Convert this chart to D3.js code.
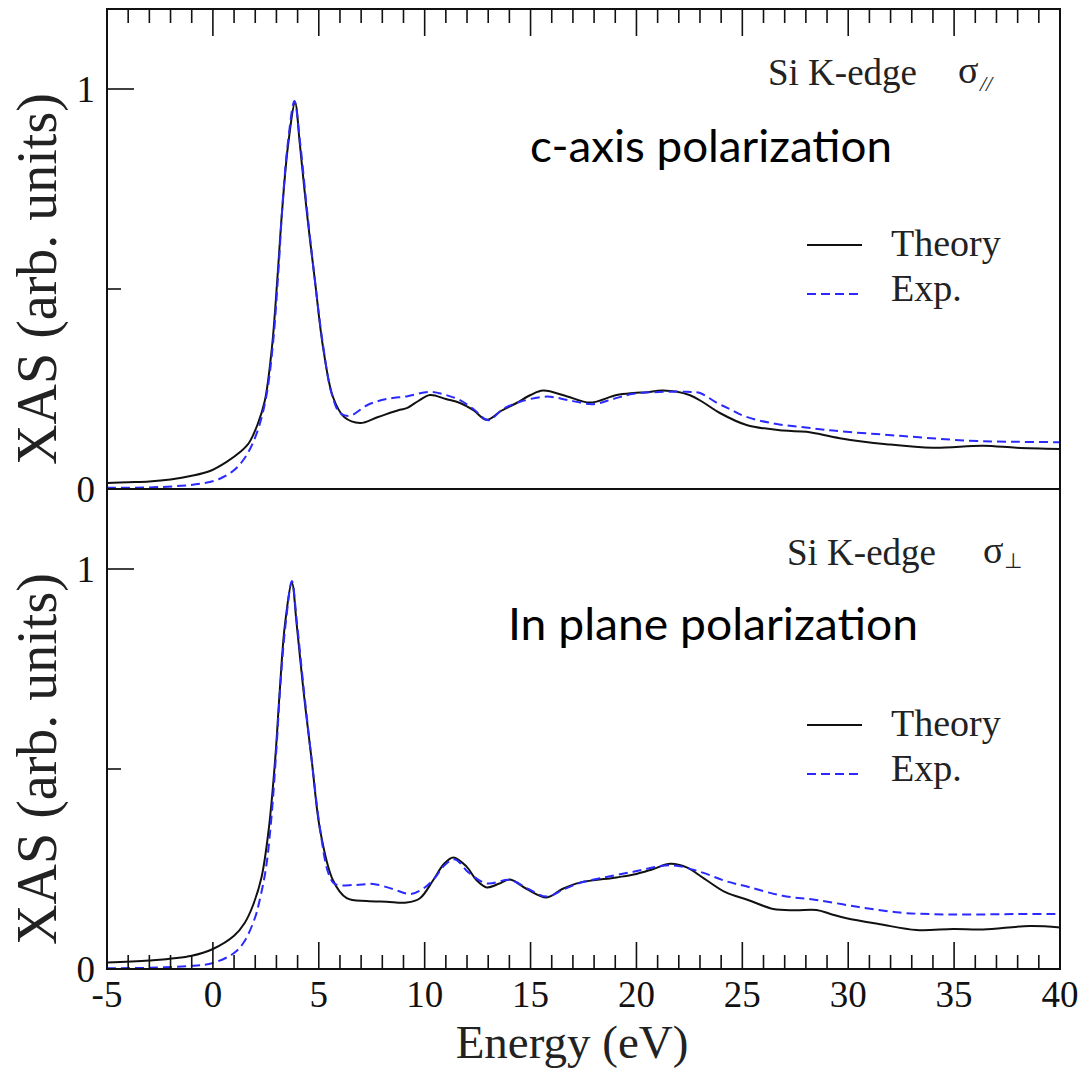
<!DOCTYPE html>
<html>
<head>
<meta charset="utf-8">
<script src="https://cdn.jsdelivr.net/npm/d3@7"></script>
<style>
  body { margin: 0; background: #fff; }
</style>
</head>
<body>
<svg id="chart" width="1086" height="1069"></svg>
<script>
// x ticks (eV) and y ticks shared by both panels
const xMajor = [-5, 0, 5, 10, 15, 20, 25, 30, 35, 40];
const xMinor = d3.range(-5, 41, 1).filter(v => v % 5 !== 0);
const yMajor = [0, 1];
const yMinor = [0.5];

// sigma parallel (c-axis) -- [energy, XAS]
const parTheory = [[-5,0.015],[-4,0.017],[-3,0.019],[-2,0.024],[-1,0.033],[-0.14,0.045],[0.65,0.068],[1.3,0.093],
  [1.7,0.115],[2.1,0.16],[2.45,0.22],[2.79,0.355],[3.05,0.53],[3.26,0.69],[3.55,0.86],[3.88,0.965],[4.11,0.86],
  [4.44,0.69],[4.82,0.52],[5.2,0.355],[5.67,0.23],[6.2,0.18],[6.95,0.165],[7.8,0.18],[8.83,0.198],[9.15,0.202],
  [9.7,0.22],[10.25,0.235],[11.0,0.225],[11.67,0.215],[12.3,0.197],[12.93,0.173],[13.6,0.195],[14.34,0.215],
  [15.0,0.235],[15.59,0.246],[16.7,0.232],[17.8,0.216],[19.06,0.235],[19.85,0.24],[20.5,0.242],[21.25,0.246],
  [22.5,0.235],[23.2,0.215],[23.94,0.19],[25.2,0.16],[26.93,0.146],[28.03,0.143],[29.6,0.127],[31.8,0.112],
  [34.0,0.103],[36.37,0.108],[37.95,0.103],[40,0.1]];
const parExp = [[-5,0.003],[-3,0.004],[-1.5,0.008],[-0.5,0.014],[0.3,0.025],[0.95,0.045],[1.4,0.07],[1.8,0.105],
  [2.2,0.16],[2.55,0.24],[2.85,0.37],[3.1,0.55],[3.3,0.72],[3.55,0.87],[3.85,0.97],[4.11,0.87],[4.44,0.7],
  [4.82,0.52],[5.2,0.36],[5.6,0.24],[6.0,0.19],[6.47,0.183],[7.3,0.21],[8.2,0.225],[9.2,0.232],[10.25,0.243],
  [11.0,0.235],[11.67,0.222],[12.3,0.2],[13.0,0.172],[13.7,0.2],[14.5,0.218],[15.76,0.231],[16.8,0.222],
  [17.95,0.212],[18.9,0.225],[19.85,0.238],[21.4,0.243],[22.4,0.243],[23.0,0.24],[23.78,0.216],[24.4,0.2],
  [25.1,0.182],[26.45,0.164],[27.8,0.155],[29.28,0.146],[32.44,0.133],[35.6,0.121],[38,0.118],[40,0.117]];

// sigma perpendicular (in plane)
const perpTheory = [[-5,0.016],[-3,0.021],[-1,0.033],[0,0.05],[1,0.083],[1.5,0.115],[1.9,0.16],[2.3,0.23],
  [2.65,0.355],[2.95,0.53],[3.15,0.69],[3.4,0.86],[3.73,0.965],[3.96,0.86],[4.29,0.69],[4.67,0.52],[5.06,0.348],
  [5.67,0.222],[6.32,0.177],[7.26,0.17],[8.2,0.168],[9.15,0.166],[9.78,0.177],[10.4,0.222],[10.9,0.262],
  [11.35,0.279],[11.98,0.256],[12.45,0.222],[12.93,0.204],[13.5,0.213],[14.03,0.224],[14.82,0.2],[15.76,0.179],
  [16.5,0.2],[17.33,0.216],[19.06,0.229],[20.0,0.2375],[20.8,0.25],[21.6,0.263],[22.37,0.254],[23.2,0.226],
  [24.2,0.192],[25.3,0.172],[26.46,0.15],[27.5,0.147],[28.5,0.1475],[29.2,0.137],[29.92,0.127],[31.5,0.112],
  [33.23,0.0975],[34.96,0.1],[36.37,0.099],[38.58,0.1075],[40,0.104]];
const perpExp = [[-5,0.002],[-3,0.003],[-1,0.008],[0,0.015],[1,0.04],[1.5,0.07],[2.0,0.13],[2.2,0.17],[2.5,0.25],
  [2.75,0.37],[3.0,0.55],[3.2,0.72],[3.45,0.87],[3.73,0.97],[3.96,0.87],[4.29,0.7],[4.67,0.52],[5.06,0.35],
  [5.45,0.24],[5.75,0.213],[6.7,0.21],[7.57,0.2125],[8.5,0.2],[9.3,0.1875],[9.9,0.2],[10.4,0.2225],[10.95,0.26],
  [11.43,0.274],[12.1,0.24],[12.93,0.214],[14.03,0.2225],[14.9,0.2],[15.76,0.181],[16.6,0.2],[17.5,0.218],
  [18.28,0.227],[19.85,0.243],[21.6,0.2595],[23.0,0.243],[24.2,0.22],[25.3,0.205],[26.9,0.183],[28.5,0.1725],
  [30.5,0.155],[32.44,0.141],[34,0.137],[35.6,0.136],[38,0.1375],[40,0.1375]];

const legendLabels = ["Theory", "Exp."];

const serif = "'Liberation Serif', 'DejaVu Serif', serif";
const ink = "#111";
const blue = "#2a2aff";

const svg = d3.select("#chart");
const left = 107, right = 1060, panelH = 480;

const x = d3.scaleLinear().domain([-5, 40]).range([left, right]);

const panels = [
  { top: 9, theory: parTheory, exp: parExp, note: "c-axis polarization", noteX: 530, noteY: 162, noteW: 362,
    edgeX: 768, sigX: 958, sub: "//", subX: 980, subY: 91, bottom: false },
  { top: 489, theory: perpTheory, exp: perpExp, note: "In plane polarization", noteX: 508, noteY: 640, noteW: 410,
    edgeX: 787, sigX: 983, sub: "\u22A5", subX: 1004, subY: 568, bottom: true }
];

function xTicks(g, yEdge, dir) {
  // dir = +1 ticks go down (top edge), -1 go up (bottom edge)
  g.selectAll(null).data(xMajor).join("line")
    .attr("x1", d => x(d)).attr("x2", d => x(d))
    .attr("y1", yEdge).attr("y2", yEdge + dir * 27)
    .attr("stroke", ink).attr("stroke-width", 1.6);
  g.selectAll(null).data(xMinor).join("line")
    .attr("x1", d => x(d)).attr("x2", d => x(d))
    .attr("y1", yEdge).attr("y2", yEdge + dir * 14)
    .attr("stroke", ink).attr("stroke-width", 1.6);
}

panels.forEach((p, i) => {
  const y = d3.scaleLinear().domain([0, 1.2]).range([p.top + panelH, p.top]);
  const g = svg.append("g");

  g.append("clipPath").attr("id", "clip" + i)
    .append("rect").attr("x", left).attr("y", p.top).attr("width", right - left).attr("height", panelH);

  const line = d3.line().x(d => x(d[0])).y(d => y(d[1])).curve(d3.curveCatmullRom.alpha(0.5));

  g.append("path").datum(p.theory)
    .attr("clip-path", `url(#clip${i})`)
    .attr("fill", "none").attr("stroke", ink).attr("stroke-width", 2)
    .attr("d", line);

  g.append("path").datum(p.exp)
    .attr("clip-path", `url(#clip${i})`)
    .attr("fill", "none").attr("stroke", blue).attr("stroke-width", 2)
    .attr("stroke-dasharray", "9,5")
    .attr("d", line);

  // left ticks, inward
  g.selectAll(null).data(yMajor).join("line")
    .attr("x1", left).attr("x2", left + 27).attr("y1", d => y(d)).attr("y2", d => y(d))
    .attr("stroke", ink).attr("stroke-width", 1.6);
  g.selectAll(null).data(yMinor).join("line")
    .attr("x1", left).attr("x2", left + 14).attr("y1", d => y(d)).attr("y2", d => y(d))
    .attr("stroke", ink).attr("stroke-width", 1.6);
  g.selectAll(null).data(yMajor).join("text")
    .attr("x", left - 12).attr("y", d => y(d)).attr("dy", "0.35em")
    .attr("text-anchor", "end")
    .style("font-family", serif).style("font-size", "37px").attr("fill", ink)
    .text(d => d);

  if (!p.bottom) {
    xTicks(g, p.top, 1);
  } else {
    const yb = p.top + panelH;
    xTicks(g, yb, -1);
    g.selectAll(null).data(xMajor).join("text")
      .attr("x", d => x(d)).attr("y", yb + 38)
      .attr("text-anchor", "middle")
      .style("font-family", serif).style("font-size", "37px").attr("fill", ink)
      .text(d => String(d));
  }

  // frame
  g.append("rect").attr("x", left).attr("y", p.top).attr("width", right - left).attr("height", panelH)
    .attr("fill", "none").attr("stroke", ink).attr("stroke-width", 2);

  // y label
  g.append("text")
    .attr("transform", `translate(56,${p.top + panelH / 2 + 30}) rotate(-90)`)
    .attr("text-anchor", "middle").attr("fill", "#222")
    .style("font-family", serif).style("font-size", "56px")
    .text("XAS (arb. units)");

  // edge + polarization label
  g.append("text").attr("x", p.edgeX).attr("y", p.top + 76).attr("fill", "#222")
    .style("font-family", serif).style("font-size", "37px").text("Si K-edge");
  g.append("text").attr("x", p.sigX).attr("y", p.top + 74).attr("fill", "#222")
    .style("font-family", serif).style("font-size", "38px").text("\u03C3");
  const sub = g.append("text").attr("x", p.subX).attr("y", p.subY).attr("fill", "#222").text(p.sub);
  if (p.bottom) sub.style("font-family", "'DejaVu Sans', sans-serif").style("font-size", "21px");
  else sub.style("font-family", serif).style("font-style", "italic").style("font-size", "22px");

  // annotation in sans
  g.append("text").attr("x", p.noteX).attr("y", p.noteY).attr("fill", "#000")
    .style("font-family", "Lato, 'Open Sans', sans-serif").style("font-size", "44px")
    .attr("textLength", p.noteW).attr("lengthAdjust", "spacingAndGlyphs")
    .text(p.note);

  // legend
  const lg = g.append("g").attr("transform", `translate(0,${p.top})`);
  lg.append("line").attr("x1", 807).attr("x2", 862).attr("y1", 236).attr("y2", 236)
    .attr("stroke", ink).attr("stroke-width", 2);
  lg.append("line").attr("x1", 807).attr("x2", 862).attr("y1", 285).attr("y2", 285)
    .attr("stroke", blue).attr("stroke-width", 2).attr("stroke-dasharray", "9,5");
  lg.selectAll(null).data(legendLabels).join("text")
    .attr("x", 891).attr("y", (d, k) => 247 + k * 45).attr("fill", "#222")
    .style("font-family", serif).style("font-size", "38px")
    .text(d => d);
});

svg.append("text").attr("x", 572).attr("y", 1058).attr("text-anchor", "middle").attr("fill", "#222")
  .style("font-family", serif).style("font-size", "47px").text("Energy (eV)");
</script>
</body>
</html>
